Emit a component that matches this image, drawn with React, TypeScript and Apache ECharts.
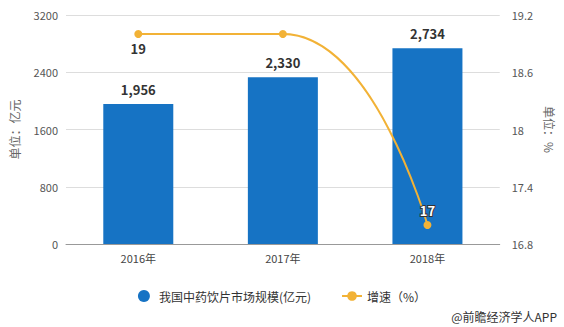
import React, { useEffect, useRef } from "react";
import * as echarts from "echarts";

const categories = ["2016年", "2017年", "2018年"];
const marketSize = [1956, 2330, 2734];
const growth = [19, 19, 17];
const growthLabelShown = [true, false, true];
const leftTicks = { min: 0, max: 3200, interval: 800 };
const rightTicks = { min: 16.8, max: 19.2, interval: 0.6 };

const FONT = "'Noto Sans CJK SC', 'Microsoft YaHei', sans-serif";

export default function App() {
  const ref = useRef<HTMLDivElement>(null);
  useEffect(() => {
    if (!ref.current) return;
    const chart = echarts.init(ref.current, undefined, { renderer: "svg" });
    const last = growth.length - 1;
    chart.setOption({
      animation: false,
      textStyle: { fontFamily: FONT },
      grid: { left: 64, right: 62, top: 15, bottom: 83 },
      legend: {
        bottom: 20,
        left: "center",
        itemGap: 30,
        itemWidth: 20,
        itemHeight: 12,
        textStyle: { fontSize: 12, color: "#333", fontFamily: FONT },
        data: [
          { name: "我国中药饮片市场规模(亿元)", icon: "circle" },
          { name: "增速（%）" },
        ],
      },
      graphic: [
        {
          type: "text",
          right: 7,
          bottom: 5,
          style: { text: "@前瞻经济学人APP", fontSize: 12, fill: "#333", fontFamily: FONT },
        },
      ],
      xAxis: {
        type: "category",
        data: categories,
        axisLine: { lineStyle: { color: "#999" } },
        axisTick: { alignWithLabel: true, lineStyle: { color: "#999" } },
        axisLabel: { color: "#444", fontSize: 11, margin: 8 },
      },
      yAxis: [
        {
          type: "value",
          min: leftTicks.min,
          max: leftTicks.max,
          interval: leftTicks.interval,
          name: "单位：亿元",
          nameLocation: "middle",
          nameGap: 46,
          nameRotate: 90,
          nameTextStyle: { color: "#666", fontSize: 12 },
          axisLine: { show: false },
          axisTick: { show: false },
          axisLabel: { color: "#555", fontSize: 11, formatter: (v: number) => String(v) },
          splitLine: { lineStyle: { color: "#ddd" } },
        },
        {
          type: "value",
          min: rightTicks.min,
          max: rightTicks.max,
          interval: rightTicks.interval,
          name: "单位：%",
          nameLocation: "middle",
          nameGap: 44,
          nameRotate: -90,
          nameTextStyle: { color: "#666", fontSize: 12 },
          axisLine: { show: false },
          axisTick: { show: false },
          axisLabel: { color: "#555", fontSize: 11, margin: 12 },
          splitLine: { show: false },
        },
      ],
      series: [
        {
          name: "我国中药饮片市场规模(亿元)",
          type: "bar",
          data: marketSize,
          barWidth: 70,
          itemStyle: { color: "#1673c4" },
          label: {
            show: true,
            position: "top",
            distance: 8,
            color: "#333",
            fontWeight: "bold",
            fontSize: 13,
            formatter: (p: any) => Number(p.value).toLocaleString("en-US"),
          },
        },
        {
          name: "增速（%）",
          type: "line",
          yAxisIndex: 1,
          smooth: true,
          symbol: "circle",
          symbolSize: 8,
          itemStyle: { color: "#f2b236" },
          lineStyle: { color: "#f2b236", width: 2 },
          label: {
            show: true,
            position: "bottom",
            distance: 4,
            fontWeight: "bold",
            fontSize: 13,
            color: "#333",
          },
          emphasis: { disabled: true },
          data: growth.map((v, i) => {
            if (!growthLabelShown[i]) return { value: v, label: { show: false } };
            if (i === last)
              return {
                value: v,
                label: {
                  position: "top",
                  color: "#fff",
                  textBorderColor: "#333",
                  textBorderWidth: 2,
                },
              };
            return v;
          }),
        },
      ],
    });
    return () => chart.dispose();
  }, []);
  return (
    <div
      ref={ref}
      style={{ position: "fixed", left: 0, top: 0, width: 564, height: 327, background: "#fff" }}
    />
  );
}
